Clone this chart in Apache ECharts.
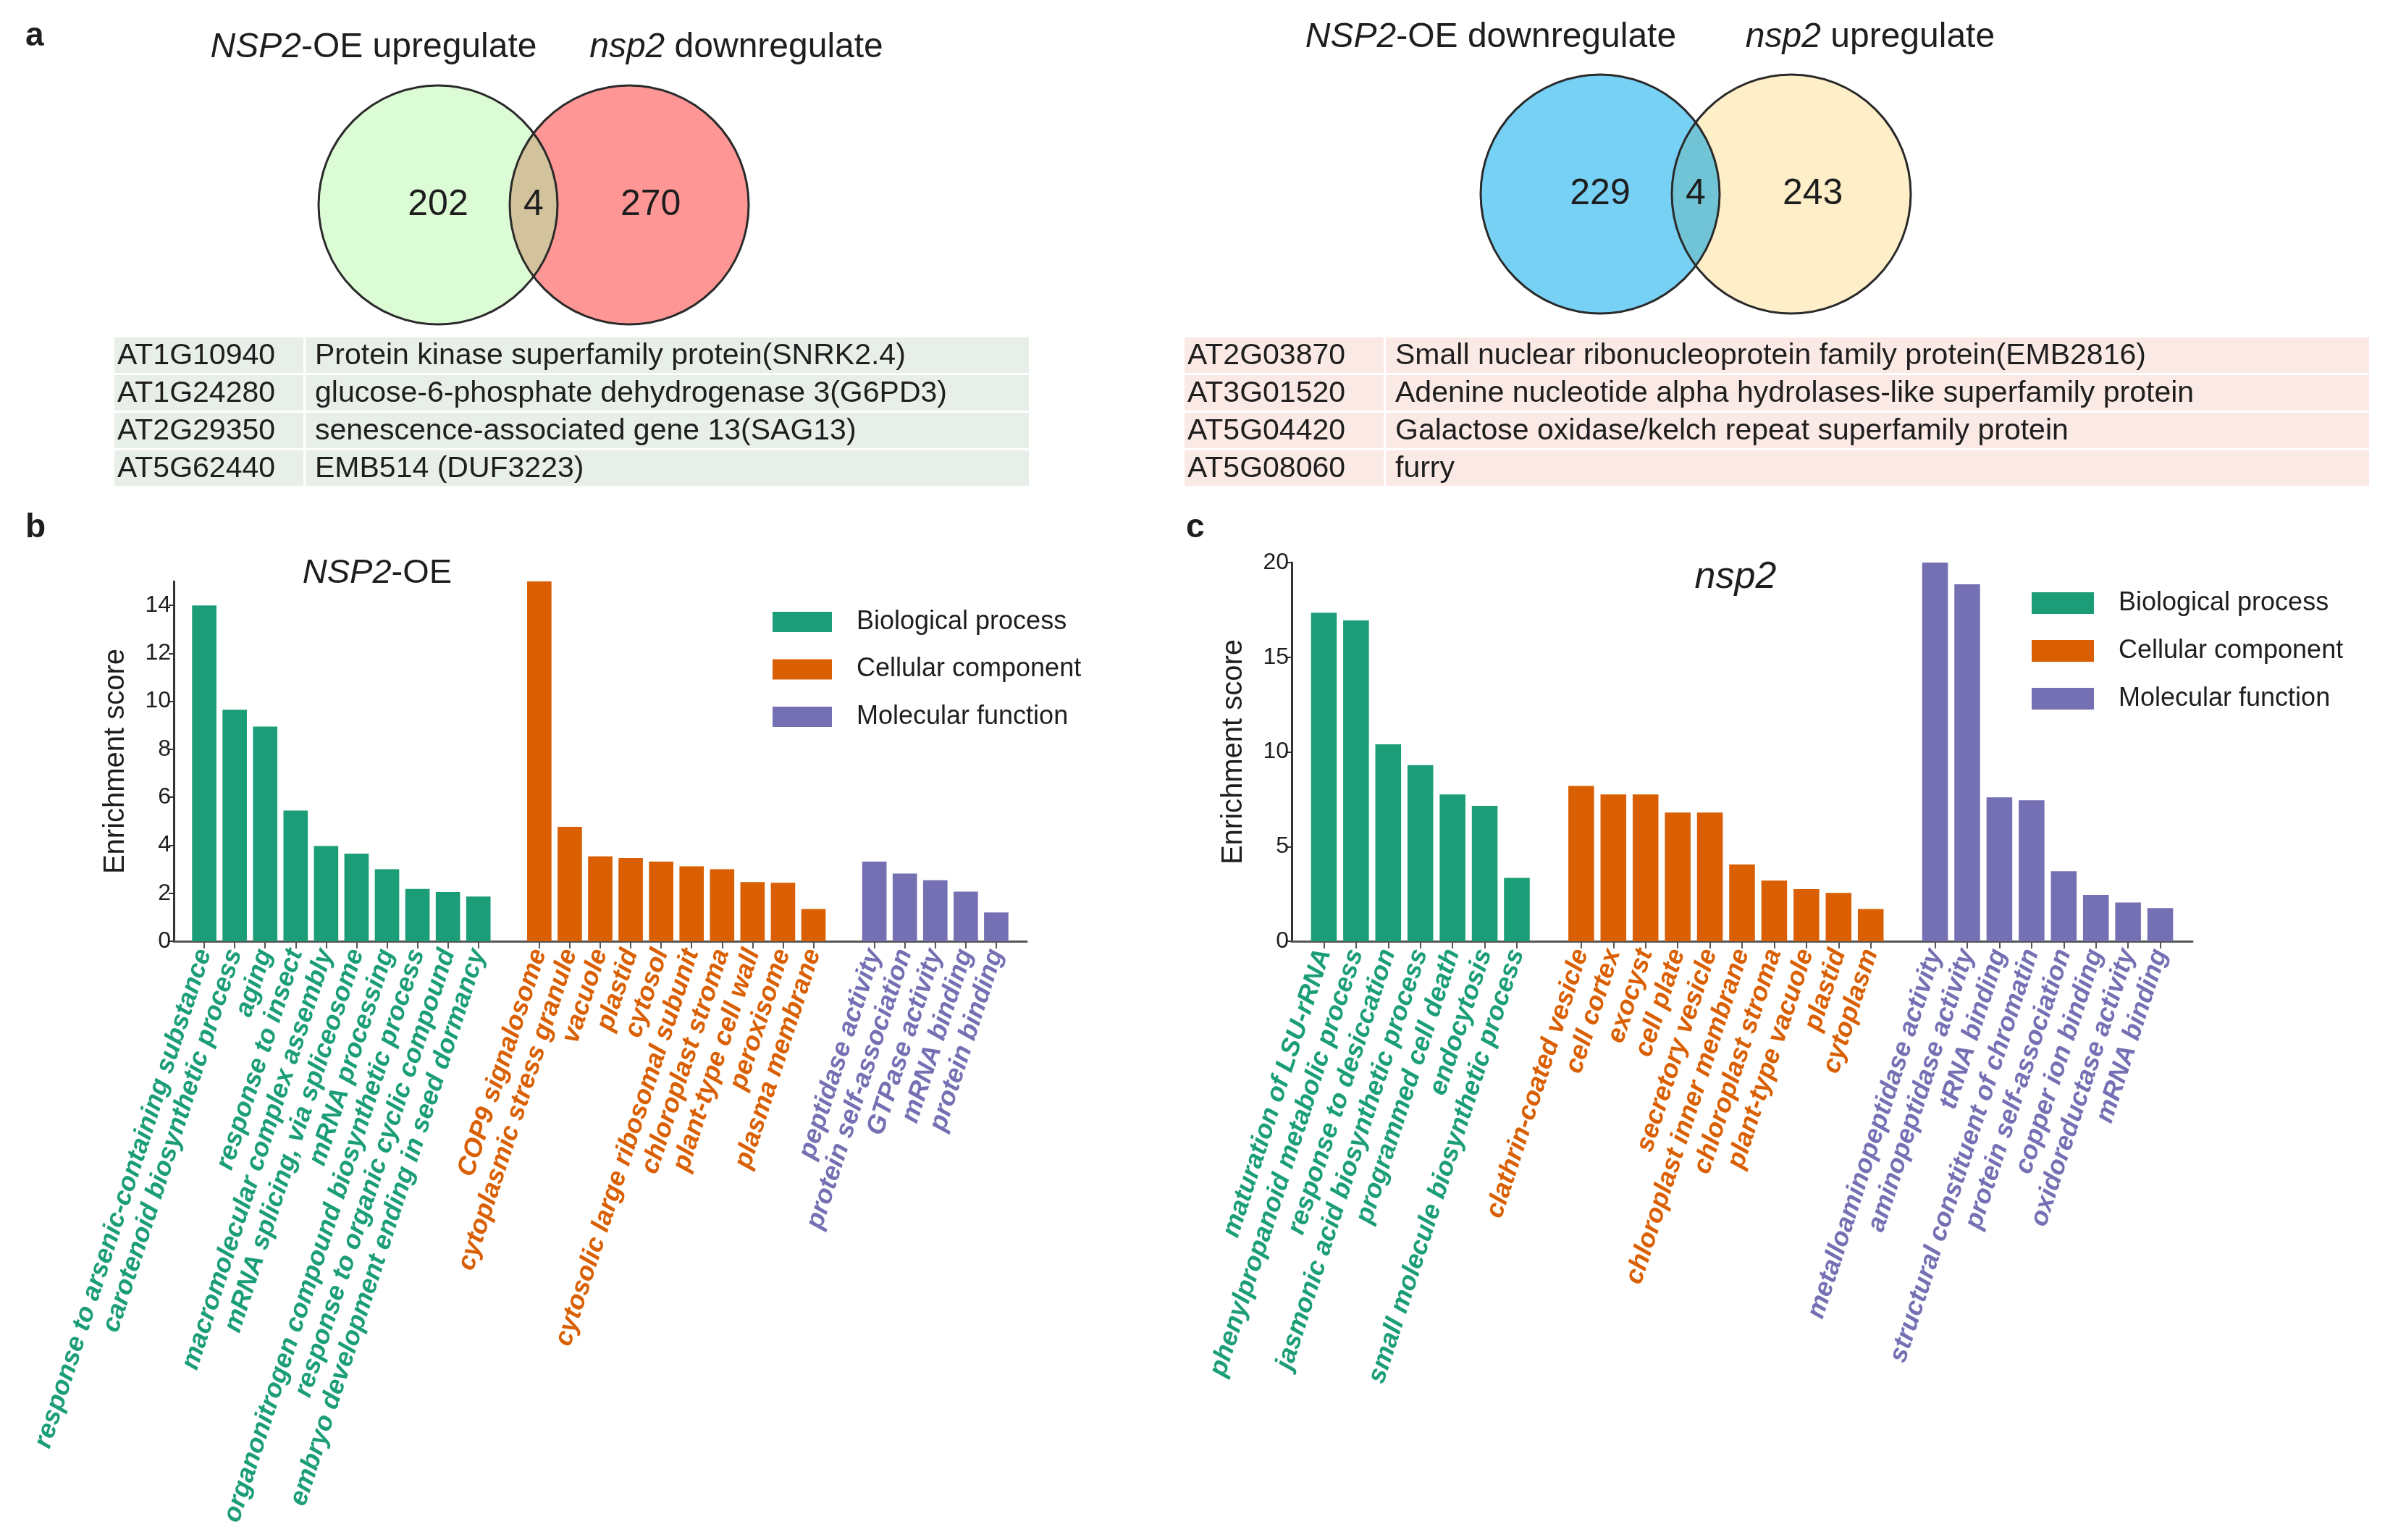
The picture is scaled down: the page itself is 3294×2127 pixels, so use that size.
<!DOCTYPE html>
<html><head><meta charset="utf-8">
<script src="https://cdn.jsdelivr.net/npm/echarts@6/dist/echarts.min.js"></script>
<style>html,body{margin:0;padding:0;background:#fff}#chart{width:3294px;height:2127px}</style>
</head><body><div id="chart"></div>
<script>
// ---------------- DATA ----------------
const vennA_counts = [202, 4, 270];
const vennB_counts = [229, 4, 243];

const tableA_ids = ['AT1G10940', 'AT1G24280', 'AT2G29350', 'AT5G62440'];
const tableA_desc = ['Protein kinase superfamily protein(SNRK2.4)', 'glucose-6-phosphate dehydrogenase 3(G6PD3)', 'senescence-associated gene 13(SAG13)', 'EMB514 (DUF3223)'];
const tableB_ids = ['AT2G03870', 'AT3G01520', 'AT5G04420', 'AT5G08060'];
const tableB_desc = ['Small nuclear ribonucleoprotein family protein(EMB2816)', 'Adenine nucleotide alpha hydrolases-like superfamily protein', 'Galactose oxidase/kelch repeat superfamily protein', 'furry'];

const groupNames = ['Biological process', 'Cellular component', 'Molecular function'];

const b_BP_names = ['response to arsenic-containing substance', 'carotenoid biosynthetic process', 'aging', 'response to insect', 'macromolecular complex assembly', 'mRNA splicing, via spliceosome', 'mRNA processing', 'organonitrogen compound biosynthetic process', 'response to organic cyclic compound', 'embryo development ending in seed dormancy'];
const b_BP_values = [14.0, 9.65, 8.95, 5.45, 3.97, 3.65, 3.0, 2.18, 2.05, 1.86];
const b_CC_names = ['COP9 signalosome', 'cytoplasmic stress granule', 'vacuole', 'plastid', 'cytosol', 'cytosolic large ribosomal subunit', 'chloroplast stroma', 'plant-type cell wall', 'peroxisome', 'plasma membrane'];
const b_CC_values = [15.0, 4.77, 3.54, 3.47, 3.32, 3.12, 3.0, 2.47, 2.44, 1.34];
const b_MF_names = ['peptidase activity', 'protein self-association', 'GTPase activity', 'mRNA binding', 'protein binding'];
const b_MF_values = [3.32, 2.82, 2.54, 2.07, 1.2];
const b_yTicks = [0, 2, 4, 6, 8, 10, 12, 14];

const c_BP_names = ['maturation of LSU-rRNA', 'phenylpropanoid metabolic process', 'response to desiccation', 'jasmonic acid biosynthetic process', 'programmed cell death', 'endocytosis', 'small molecule biosynthetic process'];
const c_BP_values = [17.35, 16.95, 10.4, 9.3, 7.75, 7.15, 3.35];
const c_CC_names = ['clathrin-coated vesicle', 'cell cortex', 'exocyst', 'cell plate', 'secretory vesicle', 'chloroplast inner membrane', 'chloroplast stroma', 'plant-type vacuole', 'plastid', 'cytoplasm'];
const c_CC_values = [8.2, 7.75, 7.75, 6.8, 6.8, 4.05, 3.2, 2.75, 2.55, 1.7];
const c_MF_names = ['metalloaminopeptidase activity', 'aminopeptidase activity', 'tRNA binding', 'structural constituent of chromatin', 'protein self-association', 'copper ion binding', 'oxidoreductase activity', 'mRNA binding'];
const c_MF_values = [20.0, 18.85, 7.6, 7.45, 3.7, 2.45, 2.05, 1.75];
const c_yTicks = [0, 5, 10, 15, 20];

// ---------------- STYLE ----------------
const F = "'Liberation Sans', Arial, Helvetica, sans-serif";
const groupColors = ['#1B9E77', '#D95F02', '#7570B3'];
const TXT = '#1e1e1e';

function layoutGroups(groups) {
  const cats = [''];
  const colorMap = {};
  const data = groups.map(() => [null]);
  groups.forEach((g, gi) => {
    g.names.forEach((n, i) => {
      cats.push(n);
      colorMap[n] = groupColors[gi];
      data.forEach((d, di) => d.push(di === gi ? g.values[i] : null));
    });
    cats.push(' '.repeat(gi + 1));
    data.forEach(d => d.push(null));
  });
  return { cats, colorMap, data };
}

const B = layoutGroups([{names: b_BP_names, values: b_BP_values}, {names: b_CC_names, values: b_CC_values}, {names: b_MF_names, values: b_MF_values}]);
const C = layoutGroups([{names: c_BP_names, values: c_BP_values}, {names: c_CC_names, values: c_CC_values}, {names: c_MF_names, values: c_MF_values}]);

function catAxis(gridIndex, L) {
  return {
    type: 'category', gridIndex: gridIndex, data: L.cats, boundaryGap: false,
    axisLine: {show: true, lineStyle: {color: '#555', width: 3}},
    axisTick: {show: true, length: 10, interval: (i, v) => String(v).trim() !== '', lineStyle: {color: '#555', width: 2}},
    axisLabel: {interval: 0, rotate: 72, margin: 12, fontSize: 36, fontWeight: 'bold', fontStyle: 'italic', fontFamily: F,
      color: (v) => L.colorMap[v] || '#000'},
    splitLine: {show: false}
  };
}
function valAxis(gridIndex, max, ticks, nameGap) {
  return {
    type: 'value', gridIndex: gridIndex, min: 0, max: max,
    axisLine: {show: true, lineStyle: {color: '#333', width: 3}},
    axisTick: {show: true, length: 7, customValues: ticks, lineStyle: {color: '#333', width: 2}},
    axisLabel: {customValues: ticks, fontSize: 32, color: TXT, fontFamily: F, margin: 4},
    splitLine: {show: false},
    name: 'Enrichment score', nameLocation: 'middle', nameGap: nameGap, nameRotate: 90,
    nameTextStyle: {fontSize: 40, color: TXT, fontFamily: F}
  };
}
function barSeries(xi, L) {
  return groupNames.map((n, gi) => ({
    type: 'bar', name: n, xAxisIndex: xi, yAxisIndex: xi, data: L.data[gi],
    barWidth: '80%', barGap: '-100%', itemStyle: {color: groupColors[gi]}, silent: true
  }));
}
function legend(left, top, w, h, gap) {
  return {
    data: groupNames, orient: 'vertical', left: left, top: top, padding: 0,
    itemWidth: w, itemHeight: h, itemGap: gap, icon: 'rect', selectedMode: false,
    textStyle: {fontSize: 36, color: TXT, fontFamily: F, lineHeight: h, padding: [0, 0, 0, 29]}
  };
}

// Venn drawn via custom series on a hidden cartesian grid
const vennD = 1.6; // centre distance in radius units
function vennSeries(idx, counts, colLeft, colRight, colOverlap) {
  return {
    type: 'custom', xAxisIndex: idx, yAxisIndex: idx, data: [[0, 0]], silent: true,
    renderItem: function (params, api) {
      const c1 = api.coord([0, 0]);
      const c2 = api.coord([vennD, 0]);
      const R = api.size([1, 0])[0];
      const a = (c2[0] - c1[0]) / 2;
      const h = Math.sqrt(R * R - a * a);
      const px = c1[0] + a, y1 = c1[1] - h, y2 = c1[1] + h;
      const lens = 'M' + px + ' ' + y1 + ' A' + R + ' ' + R + ' 0 0 0 ' + px + ' ' + y2 + ' A' + R + ' ' + R + ' 0 0 0 ' + px + ' ' + y1 + ' Z';
      const pL = api.coord([0, 0]), pM = api.coord([vennD / 2, 0]), pR = api.coord([vennD + 0.18, 0]);
      const txt = (p, t) => ({type: 'text', x: p[0], y: p[1], style: {text: String(t), fontSize: 50, fontFamily: F, fill: TXT, align: 'center', verticalAlign: 'middle', textAlign: 'center', textVerticalAlign: 'middle'}});
      return {type: 'group', children: [
        {type: 'circle', shape: {cx: c1[0], cy: c1[1], r: R}, style: {fill: colLeft}},
        {type: 'circle', shape: {cx: c2[0], cy: c2[1], r: R}, style: {fill: colRight}},
        {type: 'path', shape: {pathData: lens}, style: {fill: colOverlap}},
        {type: 'circle', shape: {cx: c1[0], cy: c1[1], r: R}, style: {fill: null, stroke: '#2a2a2a', lineWidth: 3}},
        {type: 'circle', shape: {cx: c2[0], cy: c2[1], r: R}, style: {fill: null, stroke: '#2a2a2a', lineWidth: 3}},
        txt(pL, counts[0]), txt(pM, counts[1]), txt(pR, counts[2])
      ]};
    }
  };
}
const hiddenX = (gi) => ({type: 'value', gridIndex: gi, min: -1, max: vennD + 1, show: false});
const hiddenY = (gi) => ({type: 'value', gridIndex: gi, min: -1, max: 1, show: false});

// ---------------- GRAPHIC TEXT / TABLES ----------------
const elements = [];
function text(x, y, t, opts) {
  const o = Object.assign({fontSize: 48, fontFamily: F, fill: TXT, align: 'center', verticalAlign: 'middle'}, opts || {});
  const rich = {i: {fontStyle: 'italic', fontSize: o.fontSize, fontFamily: F, fill: o.fill, fontWeight: o.fontWeight || 'normal'}};
  elements.push({type: 'text', x: x, y: y, style: Object.assign({text: t, rich: rich}, o)});
}
text(35, 50, 'a', {fontSize: 46, fontWeight: 'bold', align: 'left'});
text(35, 729, 'b', {fontSize: 46, fontWeight: 'bold', align: 'left'});
text(1638, 729, 'c', {fontSize: 46, fontWeight: 'bold', align: 'left'});

text(516, 66, '{i|NSP2}-OE upregulate');
text(1017, 66, '{i|nsp2} downregulate');
text(2059, 52, '{i|NSP2}-OE downregulate');
text(2583, 52, '{i|nsp2} upregulate');

text(521, 792, '{i|NSP2}-OE', {fontSize: 47});
text(2397, 798, '{i|nsp2}', {fontSize: 52});

function table(x0, x1, xDesc, bg, ids, desc) {
  const top = 466, pitch = 52, hgt = 49;
  ids.forEach((id, i) => {
    const y = top + i * pitch;
    elements.push({type: 'rect', shape: {x: x0, y: y, width: x1 - x0, height: hgt}, style: {fill: bg}, z: -1});
    text(x0 + 4, y + hgt / 2 + 1, id, {fontSize: 41, align: 'left'});
    text(xDesc, y + hgt / 2 + 1, desc[i], {fontSize: 41, align: 'left'});
  });
  elements.push({type: 'rect', shape: {x: xDesc - 16, y: top, width: 3, height: 4 * pitch}, style: {fill: '#fff'}, z: 0});
}
table(158, 1421, 435, '#e8eee8', tableA_ids, tableA_desc);
table(1636, 3272, 1927, '#fbe9e5', tableB_ids, tableB_desc);

// ---------------- OPTION ----------------
const option = {
  backgroundColor: '#fff',
  animation: false,
  grid: [
    {left: 240, top: 803, width: 1178, height: 497},
    {left: 1784, top: 777, width: 1244, height: 523},
    {left: 440, top: 118, width: 165 * (vennD + 2), height: 330},
    {left: 2045, top: 103, width: 165 * (vennD + 2), height: 330}
  ],
  xAxis: [catAxis(0, B), catAxis(1, C), hiddenX(2), hiddenX(3)],
  yAxis: [valAxis(0, 15, b_yTicks, 60), valAxis(1, 20, c_yTicks, 60), hiddenY(2), hiddenY(3)],
  legend: [legend(1067, 841, 82, 28, 29.5), legend(2806, 815, 86, 30, 30)],
  series: [].concat(
    barSeries(0, B), barSeries(1, C),
    [vennSeries(2, vennA_counts, '#dcfcd6', '#ff9696', '#d3c39c'),
     vennSeries(3, vennB_counts, '#77d1f5', '#ffefc9', '#70c4d6')]
  ),
  graphic: {elements: elements}
};
const chart = echarts.init(document.getElementById('chart'));
chart.setOption(option);
</script></body></html>
